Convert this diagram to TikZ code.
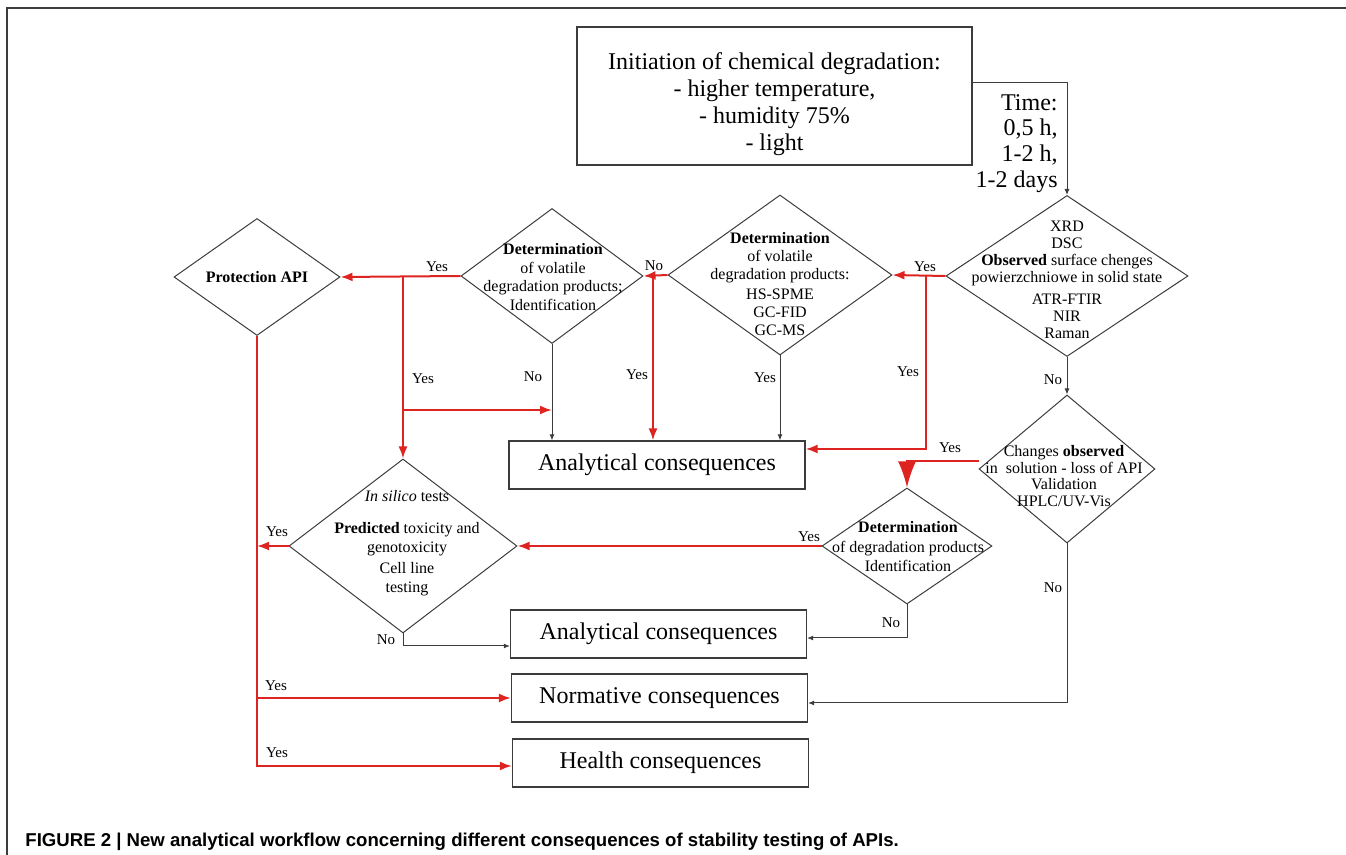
\documentclass[tikz,border=0pt]{standalone}
\usepackage{fontspec}
\setmainfont{Liberation Serif}
\setsansfont{Liberation Sans}
\usetikzlibrary{shapes.geometric, arrows.meta}

\definecolor{flowred}{RGB}{221,36,32}
\definecolor{flowgray}{RGB}{60,60,60}

\tikzset{
  box/.style={draw=flowgray, line width=0.6pt, inner sep=0pt, minimum width=148pt, minimum height=24pt, align=center, font=\fontsize{12}{13.4}\selectfont},
  dia/.style={draw=flowgray, line width=0.5pt, diamond, inner sep=0pt},
  dtext/.style={inner sep=0pt, align=center, font=\fontsize{8}{8.5}\selectfont},
  lbl/.style={inner sep=0pt, font=\fontsize{7.5}{8}\selectfont},
  blkarrow/.style={draw=flowgray, line width=0.5pt, -{Latex[length=3pt,width=2.5pt]}},
  redarrow/.style={draw=flowred, line width=1pt, -{Latex[length=6pt,width=4.5pt]}},
}

\begin{document}
\begin{tikzpicture}[x=0.5pt, y=-0.5pt]
\useasboundingbox (0,0) rectangle (1346,855);
\draw[flowgray, line width=1pt] (7,855) -- (7,8) -- (1346,8);

\node[box, minimum width=197.5pt, minimum height=69pt] (init) at (774.5,96) {};
\node[inner sep=0pt, align=center, font=\fontsize{12}{13.4}\selectfont] (initt) at (774.5,104) {Initiation of chemical degradation:\\- higher temperature,\\- humidity 75\%\\- light};
\node[anchor=north east, inner sep=0pt, align=right, font=\fontsize{12}{12.8}\selectfont] (time) at (1058,94) {Time:\\0,5 h,\\1-2 h,\\1-2 days};

\node[dia, minimum width=121pt, minimum height=80.5pt] (xrd) at (1067,276) {};
\node[dtext] (xrdt) at (1067,280) {XRD\\DSC\\\textbf{Observed} surface chenges\\powierzchniowe in solid state\\[2.5pt]ATR-FTIR\\NIR\\Raman};

\node[dia, minimum width=112pt, minimum height=80pt] (hs) at (780,275) {};
\node[dtext, font=\fontsize{8}{9}\selectfont] (hst) at (780,284) {\textbf{Determination}\\of volatile\\degradation products:\\[1pt]HS-SPME\\GC-FID\\GC-MS};

\node[dia, minimum width=91pt, minimum height=67.5pt] (vol) at (552,276) {};
\node[dtext, font=\fontsize{8}{9.3}\selectfont] (volt) at (553,277) {\textbf{Determination}\\of volatile\\degradation products;\\Identification};

\node[dia, minimum width=83pt, minimum height=58.5pt] (prot) at (257,277) {};
\node[dtext] (prott) at (257,277) {\textbf{Protection API}};

\node[dia, minimum width=114pt, minimum height=87pt] (silico) at (403,546) {};
\node[dtext, font=\fontsize{8}{9.5}\selectfont] (silicot) at (407,543) {\textit{In silico} tests\\[6.5pt]\textbf{Predicted} toxicity and\\genotoxicity\\[1pt]Cell line\\testing};

\node[dia, minimum width=85pt, minimum height=58pt] (degr) at (907,546) {};
\node[dtext, font=\fontsize{8}{9.75}\selectfont] (degrt) at (908,547) {\textbf{Determination}\\of degradation products\\Identification};

\node[dia, minimum width=88pt, minimum height=74pt] (chg) at (1067,469) {};
\node[dtext, font=\fontsize{8}{8.2}\selectfont] (chgt) at (1064,476) {Changes \textbf{observed}\\in\ \ solution - loss of API\\Validation\\HPLC/UV-Vis};

\node[box] (anl1) at (657,465) {Analytical consequences};
\node[box] (anl2) at (658.5,634) {Analytical consequences};
\node[box] (norm) at (659.5,698) {Normative consequences};
\node[box] (hlth) at (660.5,763) {Health consequences};

\coordinate (j1) at (926,275);
\coordinate (j2) at (653,275);
\coordinate (j3) at (403,276);
\coordinate (j4) at (403,410);
\coordinate (j5) at (257,546);

\draw[blkarrow] ([yshift=6.5pt]init.east) -| (xrd.north);
\draw[redarrow] (xrd.west) -- (hs.east);
\draw[redarrow] (j1) |- ([yshift=8pt]anl1.east);
\draw[redarrow] (hs.west) -- (vol.east);
\draw[redarrow] (j2) -- (j2 |- anl1.north);
\draw[blkarrow] (hs.south) -- (hs.south |- anl1.north);
\draw[blkarrow] (vol.south) -- (vol.south |- anl1.north);
\draw[redarrow] (vol.west) -- (prot.east);
\draw[redarrow] (j3) -- (silico.north);
\draw[redarrow] (j4) -- (vol.south |- j4);
\draw[blkarrow] (xrd.south) -- (chg.north);
\draw[redarrow, -{Latex[length=13pt,width=9pt]}] ([yshift=4pt]chg.west) -| (degr.north);
\draw[redarrow] (degr.west) -- (silico.east);
\draw[blkarrow] (silico.south) |- ([yshift=-6pt]anl2.west);
\draw[blkarrow] (degr.south) |- ([yshift=-2pt]anl2.east);
\draw[blkarrow] (chg.south) |- ([yshift=-2.5pt]norm.east);
\draw[redarrow] (prot.south) |- ([yshift=-1.5pt]hlth.west);
\draw[redarrow] (silico.west) -- (j5);
\draw[redarrow] (prot.south |- norm.west) -- (norm.west);

\node[lbl] (yes1) at (925,267) {Yes};
\node[lbl] (yes2) at (908,372) {Yes};
\node[lbl] (no1) at (1053,380) {No};
\node[lbl] (no2) at (654,266) {No};
\node[lbl] (yes3) at (637,375) {Yes};
\node[lbl] (yes4) at (765,378) {Yes};
\node[lbl] (no3) at (533,377) {No};
\node[lbl] (yes5) at (437,267) {Yes};
\node[lbl] (yes6) at (423,379) {Yes};
\node[lbl] (yes7) at (950,448) {Yes};
\node[lbl] (yes8) at (809,537) {Yes};
\node[lbl] (no4) at (386,640) {No};
\node[lbl] (no5) at (891,623) {No};
\node[lbl] (no6) at (1053,588) {No};
\node[lbl] (yes9) at (277,532) {Yes};
\node[lbl] (yes10) at (276,686) {Yes};
\node[lbl] (yes11) at (277,753) {Yes};

\node[anchor=base west, inner sep=0pt, font=\sffamily\bfseries\fontsize{9.3}{10}\selectfont] (caption) at (25,847) {FIGURE 2 | New analytical workflow concerning different consequences of stability testing of APIs.};
\end{tikzpicture}
\end{document}
